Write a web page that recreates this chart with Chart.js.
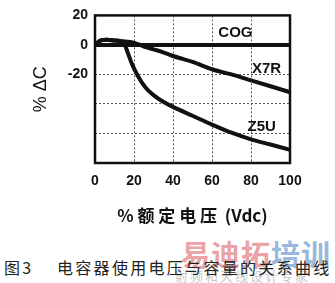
<!DOCTYPE html>
<html>
<head>
<meta charset="utf-8">
<script src="https://cdn.jsdelivr.net/npm/chart.js@4"></script>
<style>
  html, body { margin: 0; padding: 0; background: #fff; }
  #wrap { position: relative; width: 335px; height: 283px; overflow: hidden; }
  #chart { position: absolute; left: 0; top: 0; }
  .wm { position: absolute; top: 232px; left: 181px; font: bold 29px "Noto Sans CJK SC", sans-serif; letter-spacing: 1px; white-space: nowrap; }
  .wm .r { color: #eaa3a6; }
  .wm .b { color: #9ab7dd; }
  .wm2 { position: absolute; top: 266px; left: 175px; font: 13px "Noto Sans CJK SC", sans-serif; color: #c8c8c8; letter-spacing: 2px; white-space: nowrap; }
  .cap { position: absolute; top: 255px; left: 4px; font: 16px "Noto Sans CJK SC", sans-serif; color: #222; white-space: nowrap; letter-spacing: 2.3px; }
</style>
</head>
<body>
<div id="wrap">
  <canvas id="chart" width="335" height="226"></canvas>
  <div class="wm"><span class="r">易迪拓</span><span class="b">培训</span></div>
  <div class="wm2">射频和天线设计专家</div>
  <div class="cap">图3&nbsp;&nbsp;&nbsp;&nbsp;电容器使用电压与容量的关系曲线</div>
</div>
<script>
const cogX = [0, 100];
const cogY = [0, 0];

const x7rX = [0, 3, 6, 10, 14, 18, 22, 26, 30, 35, 40, 45, 50, 60, 70, 80, 90, 100];
const x7rY = [0, 3, 3.5, 3, 2.5, 2, 0.5, -1.5, -3, -5, -7.5, -9.5, -11.5, -16.5, -20, -24, -28, -32];

const z5uX = [0, 3, 6, 10, 13, 15, 17, 19, 22, 26, 30, 35, 40, 50, 60, 70, 80, 90, 100];
const z5uY = [0, 3, 3.5, 3, 2.5, 1, -6, -13, -21, -29, -34, -38.5, -42, -48, -54, -59.5, -64, -67.5, -71];

const xTicks = [0, 20, 40, 60, 80, 100];
const yLabeled = [20, 0, -20];

const seriesNames = ['COG', 'X7R', 'Z5U'];
const labelX = [72, 88, 85.5];
const labelY = [8, -16.5, -55.5];

const pts = (xs, ys) => xs.map((x, i) => ({ x, y: ys[i] }));

const lineStyle = {
  borderColor: '#111',
  borderWidth: 4,
  pointRadius: 0,
  fill: false,
  cubicInterpolationMode: 'monotone'
};

const frame = {
  id: 'frame',
  afterDatasetsDraw(chart) {
    const { ctx, chartArea: a } = chart;
    ctx.save();
    ctx.strokeStyle = '#111';
    ctx.lineWidth = 2.5;
    ctx.strokeRect(a.left, a.top, a.right - a.left, a.bottom - a.top);
    ctx.restore();
  }
};

const seriesLabels = {
  id: 'seriesLabels',
  afterDatasetsDraw(chart) {
    const { ctx, scales } = chart;
    ctx.save();
    ctx.fillStyle = '#111';
    ctx.font = 'bold 15px "Liberation Sans", Arial, sans-serif';
    ctx.textAlign = 'center';
    ctx.textBaseline = 'middle';
    seriesNames.forEach((name, i) => {
      ctx.fillText(name, scales.x.getPixelForValue(labelX[i]), scales.y.getPixelForValue(labelY[i]));
    });
    ctx.restore();
  }
};

const tickFont = { family: '"Liberation Sans", Arial, sans-serif', size: 14, weight: 'bold' };

new Chart(document.getElementById('chart'), {
  type: 'line',
  data: {
    datasets: [
      { label: 'COG', data: pts(cogX, cogY), ...lineStyle },
      { label: 'X7R', data: pts(x7rX, x7rY), ...lineStyle },
      { label: 'Z5U', data: pts(z5uX, z5uY), ...lineStyle }
    ]
  },
  options: {
    responsive: false,
    animation: false,
    layout: { padding: { top: 14, right: 45, left: 30, bottom: 0 } },
    plugins: { legend: { display: false }, tooltip: { enabled: false } },
    scales: {
      x: {
        type: 'linear',
        min: 0, max: 100,
        afterBuildTicks: s => { s.ticks = xTicks.map(v => ({ value: v })); },
        afterFit: s => { s.height = 63; },
        ticks: { color: '#111', font: tickFont, padding: 10, maxRotation: 0 },
        grid: { color: '#555', lineWidth: 1, drawTicks: false },
        border: { display: false, dash: [2, 2] },
        title: {
          display: true,
          text: '% 额 定 电 压  (Vdc)',
          color: '#111',
          font: { family: '"Noto Sans CJK SC", sans-serif', size: 17, weight: 'bold' },
          padding: { top: 2, bottom: 0 }
        }
      },
      y: {
        min: -80, max: 20,
        ticks: {
          stepSize: 20,
          color: '#111',
          font: tickFont,
          padding: 7,
          callback: v => yLabeled.includes(v) ? String(v) : ''
        },
        afterFit: s => { s.width = 65; },
        grid: { color: '#555', lineWidth: 1, drawTicks: false },
        border: { display: false, dash: [2, 2] },
        title: {
          display: true,
          text: '% ΔC',
          color: '#111',
          font: { family: '"Liberation Sans", Arial, sans-serif', size: 18 },
          padding: { top: 0, bottom: 0 }
        }
      }
    }
  },
  plugins: [frame, seriesLabels]
});
</script>
</body>
</html>
